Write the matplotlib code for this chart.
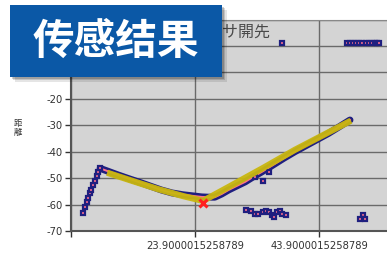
import matplotlib
matplotlib.use("Agg")
import matplotlib.pyplot as plt
from matplotlib.patches import Rectangle

# ---- data ----
rise_x = [5.79, 6.16, 6.43, 6.70, 6.96, 7.20, 7.50, 7.77, 8.04, 8.30, 8.58]
rise_y = [-63.1, -61.1, -59.0, -57.4, -55.8, -54.3, -52.7, -51.0, -49.2, -47.6, -46.3]

curve_x = [8.6, 10.0, 11.5, 13.1, 15.0, 16.8, 18.5, 20.2, 22.0, 23.9, 25.0, 26.0, 27.1,
           28.2, 29.3, 30.6, 32.0, 33.3, 34.7, 36.5, 38.2, 40.0, 41.8, 43.6, 45.4, 47.2, 48.9]
curve_y = [-46.3, -47.5, -48.8, -50.1, -51.6, -53.1, -54.5, -55.6, -56.3, -56.8, -57.1, -57.2, -57.2,
           -56.0, -54.5, -53.0, -51.4, -49.5, -47.6, -45.0, -42.5, -40.0, -37.7, -35.4, -33.1, -30.5, -28.0]

scatter_x = [33.6, 34.9, 35.8,
             32.1, 32.9, 33.6, 34.1, 34.8, 35.4, 35.9, 36.3, 36.6, 37.1, 37.6, 37.9, 38.6,
             50.95, 50.5, 51.3,
             37.9,
             48.4, 48.9, 49.4, 49.9, 50.4, 50.9, 51.4, 51.9, 52.4, 52.9, 53.3, 53.6]
scatter_y = [-49.6, -50.9, -47.6,
             -62.1, -62.6, -63.4, -63.6, -62.9, -62.4, -62.9, -64.0, -64.7, -62.8, -62.4, -63.4, -64.0,
             -63.8, -65.3, -65.3,
             1.2,
             1.1, 1.1, 1.1, 1.1, 1.1, 1.1, 1.1, 1.1, 1.1, 1.1, 1.1, 1.1]

fit_x = [10.2, 14.0, 18.0, 22.0, 25.2, 29.2, 35.0, 40.0, 48.6]
fit_y = [-48.3, -51.2, -54.2, -56.8, -58.6, -53.5, -46.0, -39.3, -28.8]

min_x = [25.2]
min_y = [-59.4]

xtick_vals = [3.90000009536743, 23.9000015258789, 43.9000015258789]
xtick_labels = ["", "23.9000015258789", "43.9000015258789"]
ytick_vals = [10, 0, -10, -20, -30, -40, -50, -60, -70]
ytick_labels = ["", "", "", "-20", "-30", "-40", "-50", "-60", "-70"]

title = "センサ開先"
ylabel = "距\n離"
banner_text = "传感结果"

# ---- figure ----
W, H = 387, 254
fig = plt.figure(figsize=(W / 100, H / 100), dpi=100)
ax = fig.add_axes([71 / W, (H - 231) / H, 1 - 71 / W, (231 - 19.6) / H])
ax.set_facecolor("#d4d4d4")

ax.set_xlim(3.9, 3.9 + 316 / 6.2)
ax.set_ylim(-70, 10)

ax.set_xticks(xtick_vals)
ax.set_xticklabels(xtick_labels)
ax.set_yticks(ytick_vals)
ax.set_yticklabels(ytick_labels)
ax.tick_params(axis="both", labelsize=7.2, colors="#333333", length=4, width=1, pad=2)
ax.tick_params(axis="x", pad=3)
ax.grid(True, color="#6a6a6a", linewidth=1.0)
ax.set_axisbelow(True)

for s in ("left", "bottom"):
    ax.spines[s].set_color("#555555")
    ax.spines[s].set_linewidth(1.5)
ax.spines["top"].set_color("#888888")
ax.spines["right"].set_visible(False)

navy = "#1f1f7f"
pink = "#ff6f8f"

# main sensor curve (dense markers -> band)
ax.plot(curve_x, curve_y, color=navy, linewidth=5.0, solid_capstyle="round", zorder=3)
ax.plot(curve_x, curve_y, color=pink, linewidth=1.4, zorder=4)
# rising segment markers
ax.plot(rise_x, rise_y, color=navy, linewidth=2.5, zorder=3)
ax.plot(rise_x, rise_y, linestyle="none", marker="s", markersize=3.4,
        markerfacecolor=pink, markeredgecolor=navy, markeredgewidth=1.6, zorder=4)
# scattered points
ax.plot(scatter_x, scatter_y, linestyle="none", marker="s", markersize=3.4,
        markerfacecolor=pink, markeredgecolor=navy, markeredgewidth=1.6, zorder=4)
# fitted line
ax.plot(fit_x, fit_y, color="#c9b70f", linewidth=4.5, alpha=0.95, zorder=5)
# minimum marker
ax.plot(min_x, min_y, linestyle="none", marker="x", markersize=6, markeredgewidth=2.2,
        color="#ff2020", zorder=6)

# y label (vertical stacked)
fig.text(18 / W, 1 - 128 / H, ylabel, fontsize=6, family=["Noto Sans CJK JP", "DejaVu Sans"],
         ha="center", va="center", color="#333333", linespacing=0.95)

# chart title (partly covered by the banner)
fig.text(270 / W, 1 - 32 / H, title, fontsize=11.5, family=["Noto Sans CJK JP", "DejaVu Sans"],
         ha="right", va="center", color="#4a4a4a", zorder=2)

# banner with shadow
for i, a in enumerate([0.10, 0.14, 0.18]):
    off = 5 - i * 1.6
    fig.patches.append(Rectangle(((10 + off) / W, 1 - (77 + off) / H), 212 / W, 72 / H,
                                 transform=fig.transFigure, facecolor="#000000", alpha=a,
                                 edgecolor="none", zorder=9))
fig.patches.append(Rectangle((10 / W, 1 - 77 / H), 212 / W, 72 / H, transform=fig.transFigure,
                             facecolor="#0b58a6", edgecolor="none", zorder=10))
fig.text(116 / W, 1 - 42 / H, banner_text, fontsize=30, fontweight="bold",
         family=["Noto Sans CJK SC", "DejaVu Sans"], color="white",
         ha="center", va="center", zorder=11)

fig.savefig("out.png", dpi=100)
